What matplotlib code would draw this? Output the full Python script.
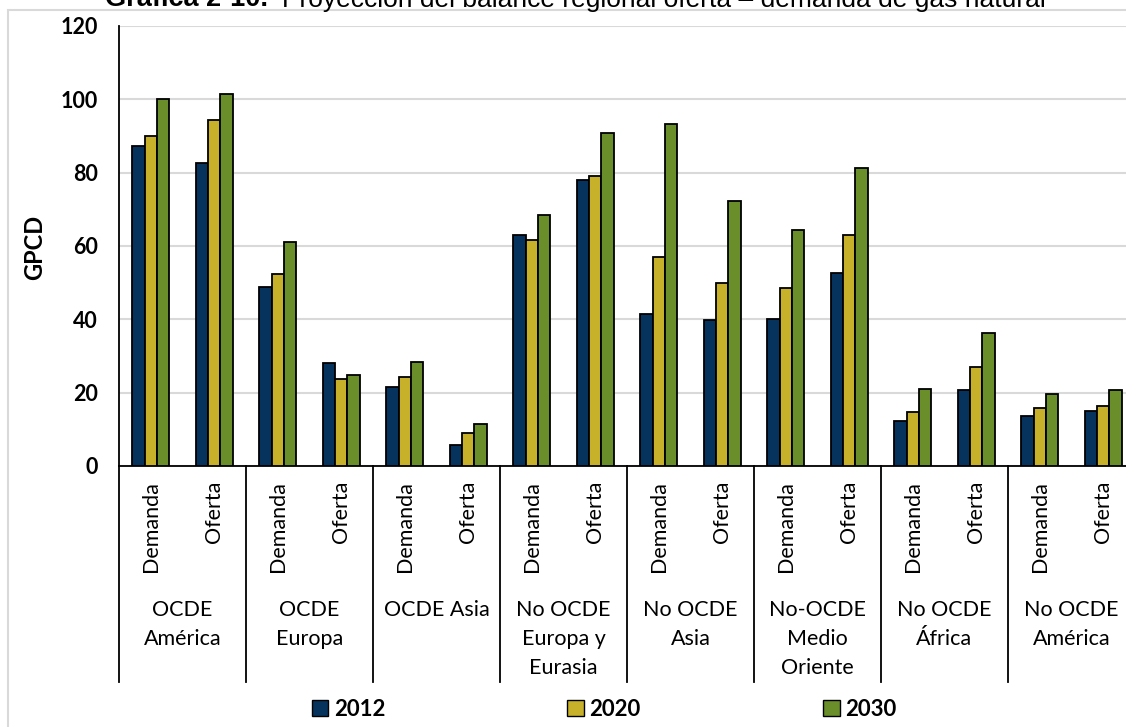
import numpy as np
import matplotlib.pyplot as plt
from matplotlib.patches import Patch, Rectangle
from matplotlib.transforms import blended_transform_factory

# data
regions = ['OCDE\nAmérica', 'OCDE\nEuropa', 'OCDE Asia', 'No OCDE\nEuropa y\nEurasia',
           'No OCDE\nAsia', 'No-OCDE\nMedio\nOriente', 'No OCDE\nÁfrica', 'No OCDE\nAmérica']
kinds = ['Demanda', 'Oferta']
years = ['2012', '2020', '2030']

v2012 = [87.3, 82.6, 48.8, 28.1, 21.6, 5.8, 63.0, 78.0,
         41.4, 39.9, 40.1, 52.6, 12.2, 20.6, 13.7, 15.0]
v2020 = [89.9, 94.5, 52.5, 23.7, 24.3, 9.0, 61.6, 79.2,
         57.0, 49.9, 48.5, 62.9, 14.8, 26.9, 15.8, 16.5]
v2030 = [100.0, 101.4, 61.1, 24.8, 28.4, 11.4, 68.4, 90.9,
         93.2, 72.3, 64.4, 81.4, 20.9, 36.2, 19.6, 20.7]

colors = ['#06335E', '#C8B12A', '#6A8E2A']

W, H = 1126, 727
fig = plt.figure(figsize=(W / 100, H / 100), dpi=100)

def fx(px):
    return px / W

def fy(py):
    return 1 - py / H

# axes spans past the right edge, as in the cropped original
ax = fig.add_axes([fx(119), fy(466), fx(1135 - 119), fy(26) - fy(466)])

lato = 'Lato'
n = len(v2012)
x = np.arange(n)
bw = 0.192
for i, (vals, c) in enumerate(zip([v2012, v2020, v2030], colors)):
    ax.bar(x + (i - 1) * bw, vals, bw, color=c, edgecolor='black', linewidth=1.3, zorder=3)

ax.set_xlim(-0.5, n - 0.5)
ax.set_ylim(0, 120)
ax.set_yticks(range(0, 121, 20))
ax.yaxis.grid(True, color='#D9D9D9', linewidth=1.5)
ax.set_axisbelow(True)
for s in ['top', 'right']:
    ax.spines[s].set_visible(False)
ax.spines['left'].set_linewidth(1.3)
ax.spines['bottom'].set_linewidth(1.3)
ax.tick_params(axis='y', length=0, pad=15)
ax.set_xticks([])
for lab in ax.get_yticklabels():
    lab.set_fontfamily(lato)
    lab.set_fontweight('bold')
    lab.set_fontsize(15.5)
fig.text(fx(35), fy(247), 'GPCD', rotation=90, ha='center', va='center',
         fontfamily=lato, fontweight='bold', fontsize=17)

# two-level category axis below the plot
tr = blended_transform_factory(ax.transData, fig.transFigure)
for j in range(n):
    ax.text(x[j], fy(481), kinds[j % 2], transform=tr, rotation=90,
            ha='center', va='top', fontfamily=lato, fontsize=15.5, clip_on=False)
for k, reg in enumerate(regions):
    ax.text(2 * k + 0.5, fy(600), reg, transform=tr, ha='center', va='top',
            fontfamily=lato, fontsize=15.5, linespacing=1.55, clip_on=False)
for k in range(len(regions) + 1):
    ax.plot([2 * k - 0.5] * 2, [fy(466), fy(682)], transform=tr, color='black',
            linewidth=1.3, clip_on=False)

handles = [Patch(facecolor=c, edgecolor='black', linewidth=1.0) for c in colors]
leg = fig.legend(handles, years, loc='center', bbox_to_anchor=(fx(604), fy(709)), ncol=3,
                 frameon=False, handlelength=0.75, handleheight=0.75, handletextpad=0.25,
                 columnspacing=8.2, prop={'family': lato, 'weight': 'bold', 'size': 16})

# title, cut off at the top like the source image
fig.text(fx(105), fy(6.5), 'Gráfica 2-10.', ha='left', va='baseline',
         fontfamily='Liberation Sans', fontweight='bold', fontsize=19.5)
fig.text(fx(282), fy(6.5), 'Proyección del balance regional oferta – demanda de gas natural',
         ha='left', va='baseline', fontfamily='Liberation Sans', fontsize=19)

fig.patches.append(Rectangle((fx(8), fy(800)), 1.2, fy(10) - fy(800), transform=fig.transFigure,
                             fill=False, edgecolor='#D9D9D9', linewidth=1.5))

fig.savefig('out.png', dpi=100)
